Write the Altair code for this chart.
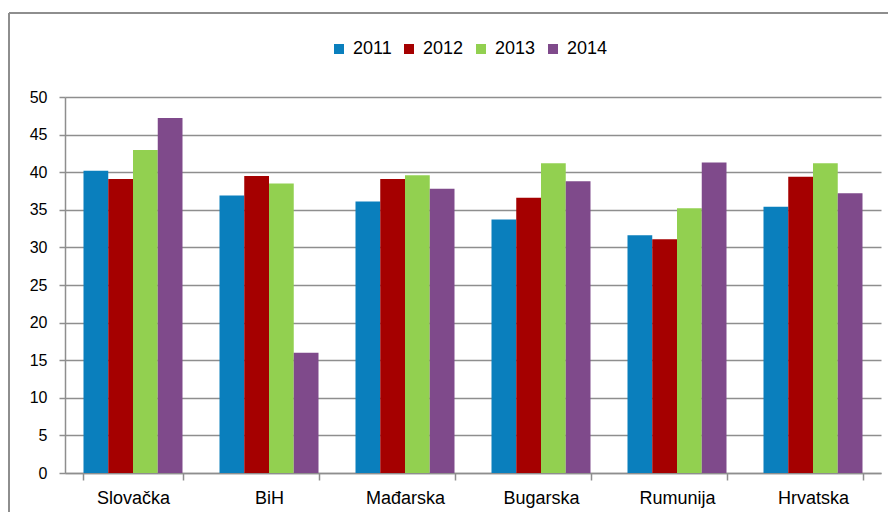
import altair as alt
import pandas as pd

categories = ["Slovačka", "BiH", "Mađarska", "Bugarska", "Rumunija", "Hrvatska"]
years = ["2011", "2012", "2013", "2014"]
v2011 = [40.2, 36.9, 36.1, 33.7, 31.6, 35.4]
v2012 = [39.1, 39.5, 39.1, 36.6, 31.1, 39.4]
v2013 = [42.95, 38.5, 39.6, 41.2, 35.2, 41.2]
v2014 = [47.2, 16.0, 37.8, 38.8, 41.3, 37.2]
colors = ["#0A7FBD", "#A50000", "#92D050", "#7F4A8B"]
y_ticks = list(range(0, 55, 5))

series = [v2011, v2012, v2013, v2014]
rows = []
for yi, yr in enumerate(years):
    for ci, c in enumerate(categories):
        rows.append({"country": c, "year": yr, "value": series[yi][ci]})
df = pd.DataFrame(rows)

NARROW = "Liberation Sans Narrow, Arial Narrow, Liberation Sans, sans-serif"
REG = "Liberation Sans, Arial, sans-serif"
GRID = "#8E8E8E"

one = pd.DataFrame({"a": [0]})
frame_top = alt.Chart(one).mark_rule(stroke=GRID, strokeWidth=2).encode(
    x=alt.value(-56), x2=alt.value(900), y=alt.value(-84)
)
frame_left = alt.Chart(one).mark_rule(stroke=GRID, strokeWidth=2).encode(
    x=alt.value(-56), y=alt.value(-84), y2=alt.value(500)
)

bars = alt.Chart(df).mark_bar().encode(
    x=alt.X(
        "country:N",
        sort=categories,
        scale=alt.Scale(paddingInner=0.272, paddingOuter=0.136),
        axis=alt.Axis(
            title=None, labelAngle=0, tickBand="extent", grid=False,
            labelFont=NARROW, labelFontSize=18, labelColor="#000000",
            labelPadding=9, tickSize=7, tickColor=GRID, domainColor=GRID,
            domainWidth=1.5, tickWidth=1.5,
        ),
    ),
    xOffset=alt.XOffset("year:N", sort=years, scale=alt.Scale(paddingInner=0, paddingOuter=0)),
    y=alt.Y(
        "value:Q",
        scale=alt.Scale(domain=[0, 50], nice=False),
        axis=alt.Axis(
            title=None, values=y_ticks, grid=True, gridColor=GRID, gridWidth=1.5,
            labelFont=REG, labelFontSize=16, labelColor="#000000", labelPadding=12,
            tickSize=6, tickColor=GRID, domainColor=GRID, domainWidth=1.5, tickWidth=1.5,
        ),
    ),
    color=alt.Color(
        "year:N",
        scale=alt.Scale(domain=years, range=colors),
        legend=alt.Legend(
            title=None, orient="none", legendX=265, legendY=-57, direction="horizontal",
            symbolType="square", symbolSize=100, symbolStrokeWidth=0,
            labelFont=NARROW, labelFontSize=18, labelColor="#000000",
            labelOffset=5, columnPadding=8,
        ),
    ),
)

chart = alt.layer(frame_top, frame_left, bars).properties(
    width=816, height=376,
    autosize=alt.AutoSizeParams(type="none"),
    padding={"left": 57, "top": 89, "right": 7, "bottom": 39},
).configure_view(stroke=None)

chart.save("out.html", embed_options={"renderer": "svg", "actions": False})
